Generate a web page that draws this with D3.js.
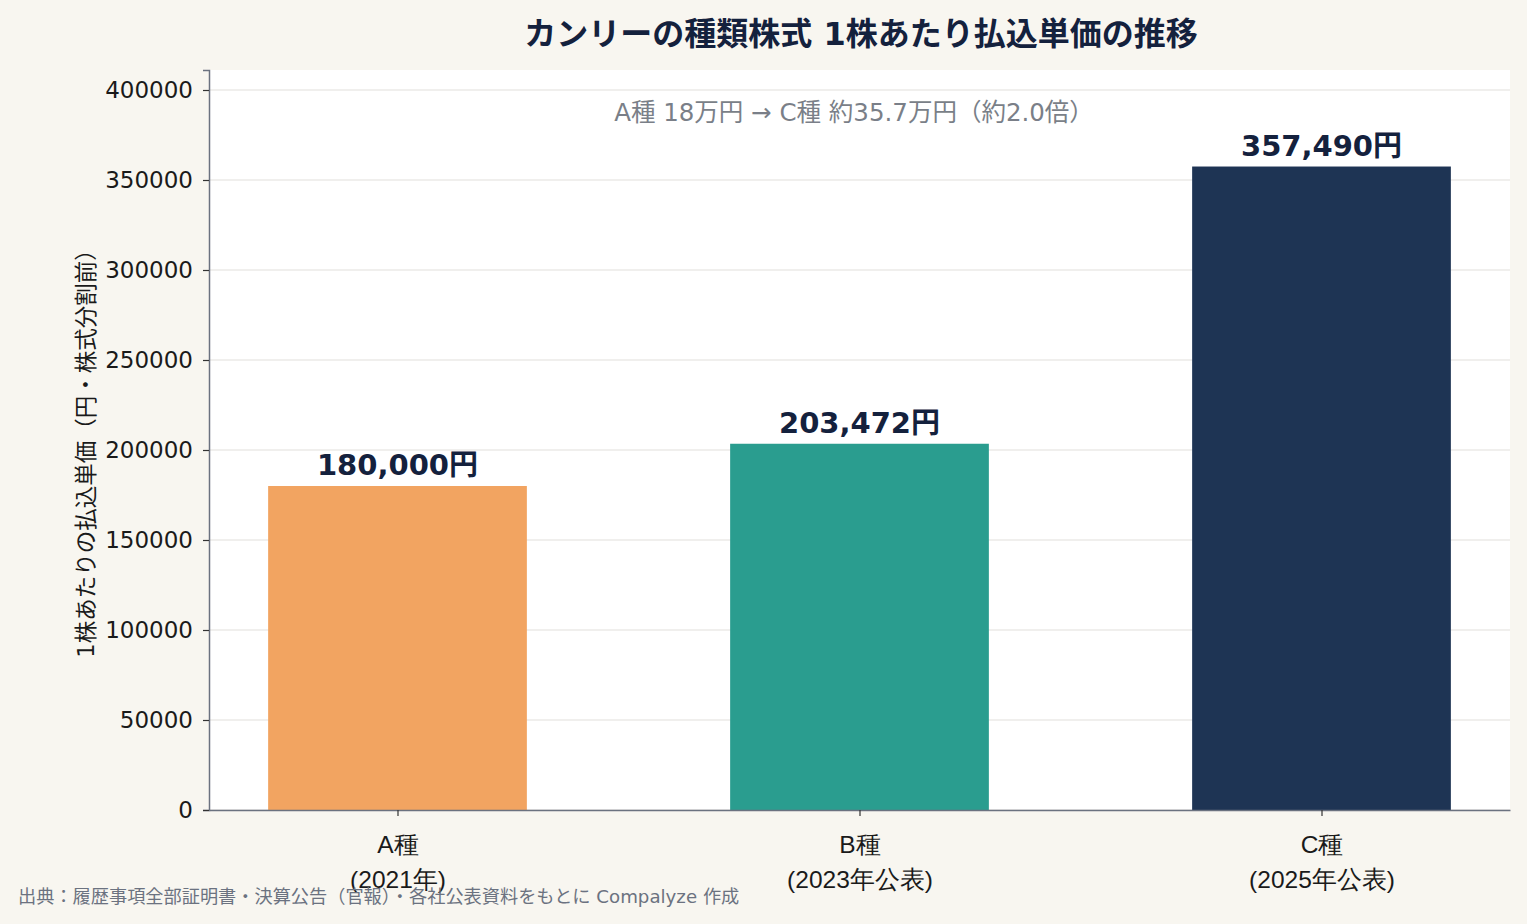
<!doctype html>
<html lang="ja">
<head>
<meta charset="utf-8">
<script src="https://d3js.org/d3.v7.min.js"></script>
<style>
  body { margin: 0; background: #f8f6f0; }
  svg { display: block; font-family: "DejaVu Sans", "Noto Sans CJK JP", sans-serif; }
</style>
</head>
<body>
<svg id="chart" width="1527" height="924"></svg>
<script>
// data
const categories = ["A種", "B種", "C種"];
const subLabels = ["(2021年)", "(2023年公表)", "(2025年公表)"];
const prices = [180000, 203472, 357490];
const colors = ["#f2a461", "#2a9d8f", "#1e3454"];
const yTicks = [0, 50000, 100000, 150000, 200000, 250000, 300000, 350000, 400000];

const width = 1527, height = 924;
const margin = { top: 70, right: 17, bottom: 114, left: 209 };
const innerW = width - margin.left - margin.right;
const innerH = height - margin.top - margin.bottom;

const svg = d3.select("#chart");
svg.append("rect").attr("width", width).attr("height", height).attr("fill", "#f8f6f0");

const g = svg.append("g").attr("transform", `translate(${margin.left},${margin.top})`);
g.append("rect").attr("width", innerW).attr("height", innerH).attr("fill", "#ffffff");

const x = d3.scaleLinear().domain([-0.408, categories.length - 1 + 0.408]).range([0, innerW]);
const y = d3.scaleLinear().domain([0, d3.max(prices) * 1.15]).range([innerH, 0]);
const barW = x(0.56) - x(0);

// grid
g.append("g").selectAll("line").data(yTicks).join("line")
  .attr("x1", 0).attr("x2", innerW)
  .attr("y1", d => y(d)).attr("y2", d => y(d))
  .attr("stroke", "#e2e0dc").attr("stroke-width", 1.2);

// bars
g.append("g").selectAll("rect").data(prices).join("rect")
  .attr("x", (d, i) => x(i) - barW / 2)
  .attr("width", barW)
  .attr("y", d => y(d))
  .attr("height", d => innerH - y(d))
  .attr("fill", (d, i) => colors[i]);

// value labels
g.append("g").selectAll("text").data(prices).join("text")
  .attr("x", (d, i) => x(i))
  .attr("y", d => y(d) - 11)
  .attr("text-anchor", "middle")
  .attr("font-size", 29).attr("font-weight", 700).attr("fill", "#14213d")
  .text(d => d3.format(",")(d) + "円");

// y axis
const yAxis = g.append("g")
  .call(d3.axisLeft(y).tickValues(yTicks).tickFormat(d3.format("d")).tickSize(6).tickPadding(10));
yAxis.select(".domain").attr("stroke", "#6b7280").attr("stroke-width", 1.5);
yAxis.selectAll(".tick line").attr("stroke", "#333").attr("stroke-width", 1.2);
yAxis.selectAll(".tick text").attr("font-size", 23).attr("fill", "#1a1a1a")
  .attr("font-family", "'DejaVu Sans', sans-serif");

// x axis
const xAxis = g.append("g").attr("transform", `translate(0,${innerH})`)
  .call(d3.axisBottom(x).tickValues(d3.range(categories.length)).tickFormat("").tickSize(6).tickSizeOuter(0));
xAxis.select(".domain").attr("stroke", "#6b7280").attr("stroke-width", 1.5);
xAxis.selectAll(".tick line").attr("stroke", "#333").attr("stroke-width", 1.2);
xAxis.selectAll(".tick").each(function(d, i) {
  const t = d3.select(this).append("text").attr("fill", "#1a1a1a").attr("font-size", 24.5)
    .attr("text-anchor", "middle");
  t.append("tspan").attr("x", 0).attr("y", 43).text(categories[i]);
  t.append("tspan").attr("x", 0).attr("y", 78).text(subLabels[i]);
});

// y label
svg.append("text")
  .attr("transform", `translate(94,${margin.top + innerH / 2 + 8}) rotate(-90)`)
  .attr("text-anchor", "middle").attr("font-size", 22.5).attr("fill", "#1a1a1a")
  .text("1株あたりの払込単価（円・株式分割前）");

// title
svg.append("text")
  .attr("x", 861).attr("y", 45).attr("text-anchor", "middle")
  .attr("font-size", 32).attr("font-weight", 700).attr("fill", "#14213d")
  .text("カンリーの種類株式 1株あたり払込単価の推移");

// annotation
svg.append("text")
  .attr("x", 854).attr("y", 121).attr("text-anchor", "middle")
  .attr("font-size", 24.5).attr("fill", "#7a7f88")
  .text("A種 18万円 → C種 約35.7万円（約2.0倍）");

// source
svg.append("text")
  .attr("x", 18).attr("y", 903).attr("font-size", 18.2).attr("fill", "#6b7280")
  .text("出典：履歴事項全部証明書・決算公告（官報）・各社公表資料をもとに Compalyze 作成");
</script>
</body>
</html>
